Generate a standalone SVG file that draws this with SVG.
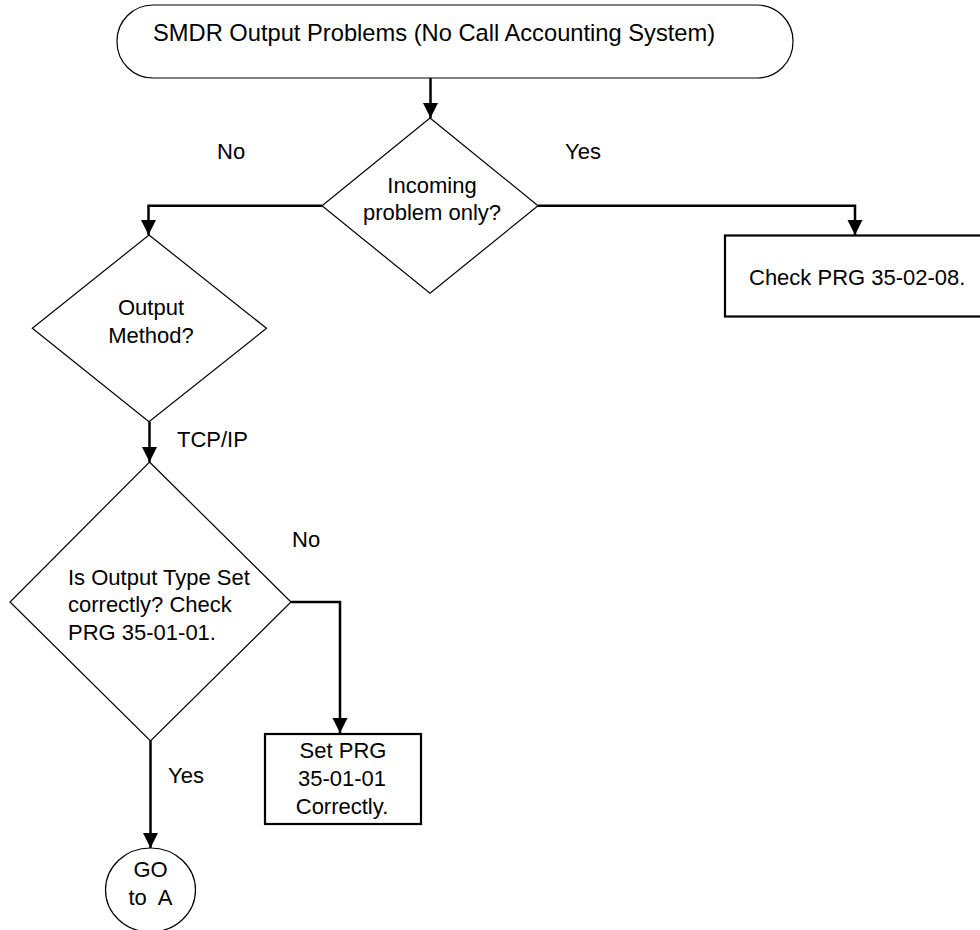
<svg xmlns="http://www.w3.org/2000/svg" width="980" height="930" viewBox="0 0 980 930">
<defs>
<marker id="arr" markerUnits="userSpaceOnUse" markerWidth="16" markerHeight="16" refX="15" refY="7.5" orient="auto">
<path d="M0,0 L15,7.5 L0,15 Z" fill="#000"/>
</marker>
<style>
text{font-family:"Liberation Sans",Arial,sans-serif;font-size:22px;fill:#000}
.c{text-anchor:middle}
.thin{fill:#fff;stroke:#000;stroke-width:1.2}
.box{fill:#fff;stroke:#000;stroke-width:2.2}
.conn{fill:none;stroke:#000;stroke-width:2.5;marker-end:url(#arr)}
</style>
</defs>
<rect width="980" height="930" fill="#fff"/>
<g id="connectors">
<path class="conn" d="M430.5,78 V118"/>
<path class="conn" d="M322,205.7 H148.5 V235"/>
<path class="conn" d="M538,205.7 H855 V235"/>
<path class="conn" d="M149.5,421.7 V462"/>
<path class="conn" d="M291,602 H340 V733"/>
<path class="conn" d="M150.5,741 V848"/>
</g>
<g id="start">
<rect class="thin" x="117" y="5" width="676" height="73" rx="36" ry="36"/>
<text x="153" y="40.5" style="font-size:23.7px">SMDR Output Problems (No Call Accounting System)</text>
</g>
<g id="incoming">
<path class="thin" d="M430,118 L538,205.7 L430,293.3 L322,205.7 Z"/>
<text class="c" x="432" y="193">Incoming</text>
<text class="c" x="432" y="220">problem only?</text>
</g>
<g id="check35-02-08">
<rect class="box" x="725" y="235.5" width="262" height="81"/>
<text x="749" y="285">Check PRG 35-02-08.</text>
</g>
<g id="output-method">
<path class="thin" d="M149,235 L266.5,328.3 L149,421.7 L32.3,328.3 Z"/>
<text class="c" x="151" y="315">Output</text>
<text class="c" x="151" y="342.7">Method?</text>
</g>
<g id="output-type">
<path class="thin" d="M149.5,462 L291,602 L150.5,741 L10,602 Z"/>
<text x="68" y="584.5">Is Output Type Set</text>
<text x="68" y="612">correctly? Check</text>
<text x="68" y="639.5">PRG 35-01-01.</text>
</g>
<g id="set35-01-01">
<rect class="box" x="265" y="734" width="156" height="90"/>
<text class="c" x="343" y="757.5">Set PRG</text>
<text class="c" x="342" y="785.7">35-01-01</text>
<text class="c" x="342" y="814">Correctly.</text>
</g>
<g id="goto-a">
<ellipse class="thin" cx="150.5" cy="890" rx="45" ry="42"/>
<text class="c" x="150.5" y="876.7">GO</text>
<text class="c" x="150.5" y="905" xml:space="preserve">to  A</text>
</g>
<g id="labels">
<text x="217" y="159">No</text>
<text x="565" y="159">Yes</text>
<text x="177" y="446.7">TCP/IP</text>
<text x="292" y="546.7">No</text>
<text x="168" y="782.7">Yes</text>
</g>
</svg>
